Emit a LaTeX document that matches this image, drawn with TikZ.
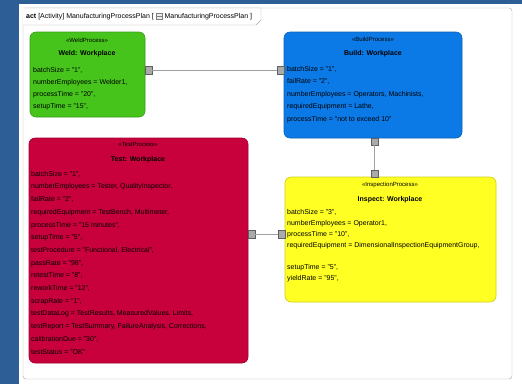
\documentclass[tikz,border=0pt]{standalone}
\usepackage{fontspec}
\setmainfont{Liberation Sans}
\usetikzlibrary{positioning}

\definecolor{bgblue}{RGB}{45,95,150}
\definecolor{framegray}{RGB}{170,170,170}
\definecolor{weldgreen}{RGB}{70,196,28}
\definecolor{buildblue}{RGB}{12,122,230}
\definecolor{testred}{RGB}{200,0,60}
\definecolor{inspyellow}{RGB}{255,255,35}
\definecolor{portgray}{RGB}{170,170,170}
\definecolor{linegray}{RGB}{160,160,160}

\begin{document}
\begin{tikzpicture}[x=1pt,y=-1pt,
    procbox/.style={draw=#1!80!black, fill=#1, rounded corners=6pt, anchor=north west,
        inner sep=0pt, outer sep=0pt, line width=0.6pt},
    port/.style={draw=gray!75!black, fill=portgray, minimum size=7.5pt, inner sep=0pt,
        line width=0.4pt},
    conn/.style={draw=linegray, line width=0.9pt},
    stereo/.style={font=\fontsize{6}{7}\selectfont, inner sep=0pt},
    boxname/.style={font=\fontsize{7}{8}\selectfont\bfseries, inner sep=0pt},
    attrs/.style={anchor=north west, align=left, inner sep=0pt, font=\fontsize{7}{#1}\selectfont}]
    \useasboundingbox (0,0) rectangle (522,384);
    % Background and frame
    \fill[bgblue] (0,0) rectangle (522,384);
    \fill[white] (19,4) rectangle (522,384);
    \draw[framegray, rounded corners=3pt] (23,8) rectangle (512,379);
    \draw[framegray, fill=white] (23,8) -- (261,8) -- (261,20) -- (256,25) -- (23,25);
    \node[anchor=west, inner sep=0pt, font=\fontsize{7}{8}\selectfont] (tabhead) at (26,16.5)
        {\textbf{act} [Activity] ManufacturingProcessPlan [};
    \node[draw=gray, fill=gray!15, minimum width=6pt, minimum height=6pt, inner sep=0pt,
        right=2pt of tabhead] (tabicon) {};
    \draw[gray, line width=0.3pt] (tabicon.west) -- (tabicon.east);
    \node[inner sep=0pt, font=\fontsize{7}{8}\selectfont, right=2pt of tabicon] (tabtail)
        {ManufacturingProcessPlan ]};

    % Process boxes
    \node[procbox=weldgreen, minimum width=115pt, minimum height=85pt] (weld) at (30,32) {};
    \node[procbox=buildblue, minimum width=178pt, minimum height=106pt] (build) at (284,32) {};
    \node[procbox=testred, minimum width=219pt, minimum height=225pt] (test) at (29,138) {};
    \node[procbox=inspyellow, minimum width=211pt, minimum height=125pt] (inspect) at (285,177) {};

    % Weld
    \node[stereo] (weldst) at (87,40) {«WeldProcess»};
    \node[boxname] (weldname) at (87,54) {Weld: Workplace};
    \node[attrs=12] (weldattr) at (33,67) {batchSize = "1",\\
        numberEmployees = Welder1,\\
        processTime = "20",\\
        setupTime = "15",};

    % Build
    \node[stereo] (buildst) at (373,39) {«BuildProcess»};
    \node[boxname] (buildname) at (373,54) {Build: Workplace};
    \node[attrs=12.5] (buildattr) at (287,66) {batchSize = "1",\\
        failRate = "2",\\
        numberEmployees = Operators, Machinists,\\
        requiredEquipment = Lathe,\\
        processTime = "not to exceed 10"};

    % Test
    \node[stereo] (testst) at (138,144) {«TestProcess»};
    \node[boxname] (testname) at (138,160) {Test: Workplace};
    \node[attrs=12.7] (testattr) at (31,171) {batchSize = "1",\\
        numberEmployees = Tester, QualityInspector,\\
        failRate = "2",\\
        requiredEquipment = TestBench, Multimeter,\\
        processTime = "15 minutes",\\
        setupTime = "5",\\
        testProcedure = "Functional, Electrical",\\
        passRate = "98",\\
        retestTime = "8",\\
        reworkTime = "12",\\
        scrapRate = "1",\\
        testDataLog = TestResults, MeasuredValues, Limits,\\
        testReport = TestSummary, FailureAnalysis, Corrections,\\
        calibrationDue = "30",\\
        testStatus = "OK"};

    % Inspect
    \node[stereo] (inspst) at (390,185) {«InspectionProcess»};
    \node[boxname] (inspname) at (390,200) {Inspect: Workplace};
    \node[attrs=11] (inspattr) at (287,209) {batchSize = "3",\\
        numberEmployees = Operator1,\\
        processTime = "10",\\
        requiredEquipment = DimensionalInspectionEquipmentGroup,\\[11pt]
        setupTime = "5",\\
        yieldRate = "95",};

    % Ports
    \node[port] (weldport) at (148.5,70) {};
    \node[port] (buildwport) at (280.5,70) {};
    \node[port] (buildsport) at (374.5,141.5) {};
    \node[port] (inspnport) at (374.5,173.5) {};
    \node[port] (testport) at (251.5,234) {};
    \node[port] (inspwport) at (281.5,234) {};

    % Connectors
    \draw[conn] (weldport) -- (buildwport);
    \draw[conn] (buildsport) -- (inspnport);
    \draw[conn] (testport) -- (inspwport);
\end{tikzpicture}
\end{document}
